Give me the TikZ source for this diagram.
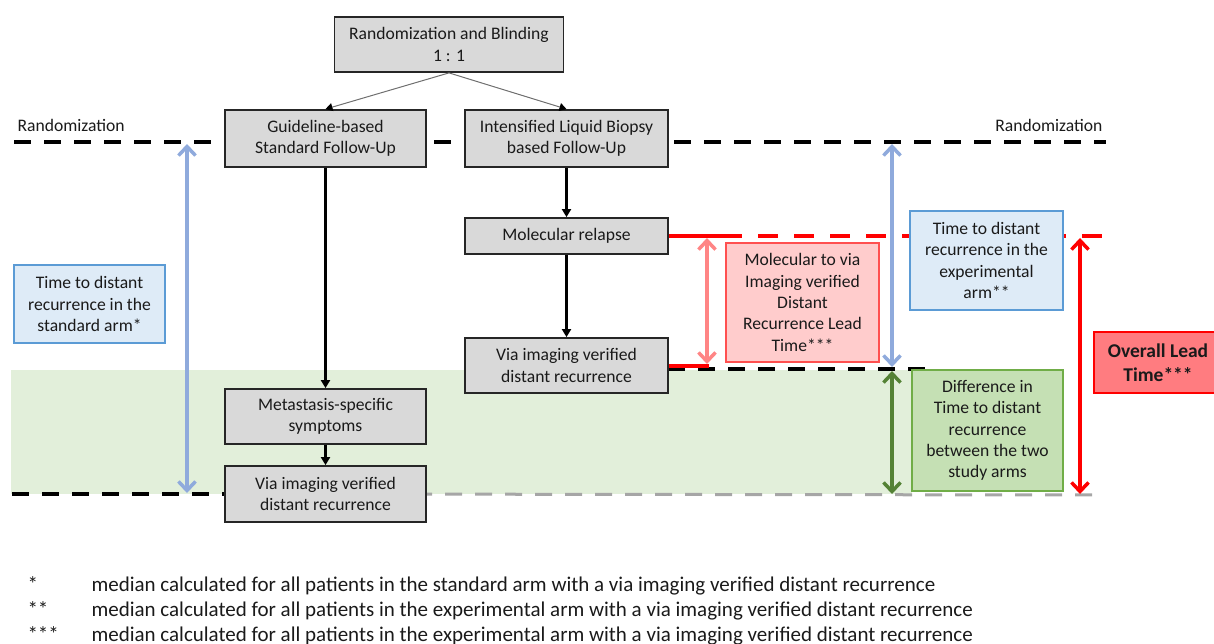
\documentclass[tikz,border=0pt]{standalone}
\usepackage{fontspec}
\setmainfont{Carlito}
\usetikzlibrary{arrows.meta}
\definecolor{boxfill}{HTML}{D9D9D9}
\definecolor{boxline}{HTML}{262626}
\definecolor{txt}{HTML}{1A1A1A}
\definecolor{bandgreen}{HTML}{E2EFDA}
\definecolor{bluefill}{HTML}{DEEBF7}
\definecolor{blueline}{HTML}{5B9BD5}
\definecolor{bluearr}{HTML}{8FAADC}
\definecolor{pinkfill}{HTML}{FFCCCC}
\definecolor{pinkline}{HTML}{FF5050}
\definecolor{pinkarr}{HTML}{FF8585}
\definecolor{greenfill}{HTML}{C5E0B4}
\definecolor{greenline}{HTML}{70AD47}
\definecolor{greenarr}{HTML}{548235}
\definecolor{redfill}{HTML}{FF7C80}
\definecolor{dashgray}{HTML}{A6A6A6}
\definecolor{thingray}{HTML}{6F6F6F}
\tikzset{
  flowbox/.style={draw=boxline, line width=1.8pt, fill=boxfill, align=center,
    inner sep=0pt, text=txt},
  infobox/.style={line width=1.4pt, align=center, inner sep=0pt, text=txt},
  thinarrow/.style={draw=thingray, line width=1pt, -{Triangle[length=7pt,width=8pt,color=black]}},
  flowarrow/.style={draw=black, line width=2.2pt, -{Triangle[length=8pt,width=9pt]}},
  timearrow/.style={line width=3.5pt, {Straight Barb[length=9pt,width=17pt]}-{Straight Barb[length=9pt,width=17pt]}},
  blackdash/.style={draw=black, line width=4pt, dash pattern=on 17pt off 13pt},
  graydash/.style={draw=dashgray, line width=3pt, dash pattern=on 17pt off 13pt},
  reddash/.style={draw=red, line width=4pt, dash pattern=on 20pt off 16pt},
  redsolid/.style={draw=red, line width=4pt},
  note/.style={anchor=base west, text=txt, font=\fontsize{21}{25}\selectfont},
}
\begin{document}
\begin{tikzpicture}[x=1pt, y=-1pt, font=\fontsize{17.6}{21.3}\selectfont]
\useasboundingbox (0,0) rectangle (1214,644);

% shaded interval between the two recurrence times
\fill[bandgreen] (11,370) rectangle (912,494);

% reference lines
\coordinate (randL) at (14,142);
\coordinate (randR) at (1106,142);
\draw[blackdash] (randL) -- (randR);
\node[anchor=base west, text=txt] (randlabL) at (14,132) {Randomization};
\node[anchor=base east, text=txt] (randlabR) at (1106,132) {Randomization};

\coordinate (stdL) at (12,494);
\coordinate (stdM) at (325,494);
\draw[blackdash] (stdL) -- (stdM);
\coordinate (grayR) at (1100,495);
\draw[graydash] (stdM) -- (grayR);

\coordinate (expR) at (930,369);

% flow boxes
\node[flowbox, minimum width=229pt, minimum height=55pt] (top) at (449,44.5) {Randomization and Blinding\\1 : 1};
\node[flowbox, minimum width=201pt, minimum height=57pt] (guide) at (325.5,138.5) {Guideline-based\\Standard Follow-Up};
\node[flowbox, minimum width=203pt, minimum height=57pt] (intens) at (566.5,138.5) {Intensified Liquid Biopsy\\based Follow-Up};
\node[flowbox, minimum width=203pt, minimum height=36pt] (molec) at (566.5,236) {Molecular relapse};
\node[flowbox, minimum width=201pt, minimum height=55pt] (meta) at (325.5,416.5) {Metastasis-specific\\symptoms};
\node[flowbox, minimum width=201pt, minimum height=56pt] (stdvia) at (325.5,494) {Via imaging verified\\distant recurrence};

% experimental arm recurrence line (drawn before its box)
\draw[blackdash] (668,369) -- (expR);
\node[flowbox, minimum width=203pt, minimum height=55pt] (expvia) at (566.5,365.5) {Via imaging verified\\distant recurrence};

% connectors of the flow
\draw[thinarrow] (top.south) -- (guide.north);
\draw[thinarrow] (top.south) -- (intens.north);
\draw[flowarrow] (guide) -- (meta);
\draw[flowarrow] (meta) -- (stdvia);
\draw[flowarrow] (intens) -- (molec);
\draw[flowarrow] (molec) -- (expvia);

% molecular relapse level
\coordinate (molA) at (722,236);
\coordinate (molB) at (1110,236);
\draw[reddash] (molA) -- (molB);
\draw[redsolid] (molec.east) -- (molA);
\coordinate (viaA) at (709,366);
\draw[redsolid] (expvia.east |- viaA) -- (viaA);

% time intervals
\coordinate (lbTop) at (187,144);
\coordinate (lbBot) at (187,493);
\draw[timearrow, bluearr] (lbTop) -- (lbBot);

\coordinate (pkTop) at (707,238);
\coordinate (pkBot) at (707,364);
\draw[timearrow, pinkarr] (pkTop) -- (pkBot);

\coordinate (rbTop) at (892,144);
\coordinate (rbBot) at (892,367);
\draw[timearrow, bluearr] (rbTop) -- (rbBot);

\coordinate (gTop) at (892,371);
\coordinate (gBot) at (892,494);
\draw[timearrow, greenarr] (gTop) -- (gBot);

\coordinate (rTop) at (1080,238);
\coordinate (rBot) at (1080,494);
\draw[timearrow, red] (rTop) -- (rBot);

% explanatory boxes
\node[infobox, draw=blueline, fill=bluefill, minimum width=151pt, minimum height=78pt] (stdbox) at (89.5,304) {Time to distant\\recurrence in the\\standard arm*};
\node[infobox, draw=pinkline, fill=pinkfill, minimum width=153pt, minimum height=119pt] (leadbox) at (802.5,302.5) {Molecular to via\\Imaging verified\\Distant\\Recurrence Lead\\Time***};
\node[infobox, draw=blueline, fill=bluefill, minimum width=153pt, minimum height=99pt] (expbox) at (986.5,260.5) {Time to distant\\recurrence in the\\experimental\\arm**};
\node[infobox, draw=greenline, fill=greenfill, minimum width=151pt, minimum height=121pt] (diffbox) at (987.5,430.5) {Difference in\\Time to distant\\recurrence\\between the two\\study arms};
\node[infobox, draw=red, fill=redfill, minimum width=128pt, minimum height=61pt, font=\fontsize{19.5}{24}\selectfont\bfseries] (overall) at (1158,362.5) {Overall Lead\\Time***};

% footnotes
\node[note] (s1) at (24,591.5) {*};
\node[note] (s2) at (24,616.5) {**};
\node[note] (s3) at (24,641) {***};
\node[note] (f1) at (88,591.5) {median calculated for all patients in the standard arm with a via imaging verified distant recurrence};
\node[note] (f2) at (88,616.5) {median calculated for all patients in the experimental arm with a via imaging verified distant recurrence};
\node[note] (f3) at (88,641) {median calculated for all patients in the experimental arm with a via imaging verified distant recurrence};
\end{tikzpicture}
\end{document}
